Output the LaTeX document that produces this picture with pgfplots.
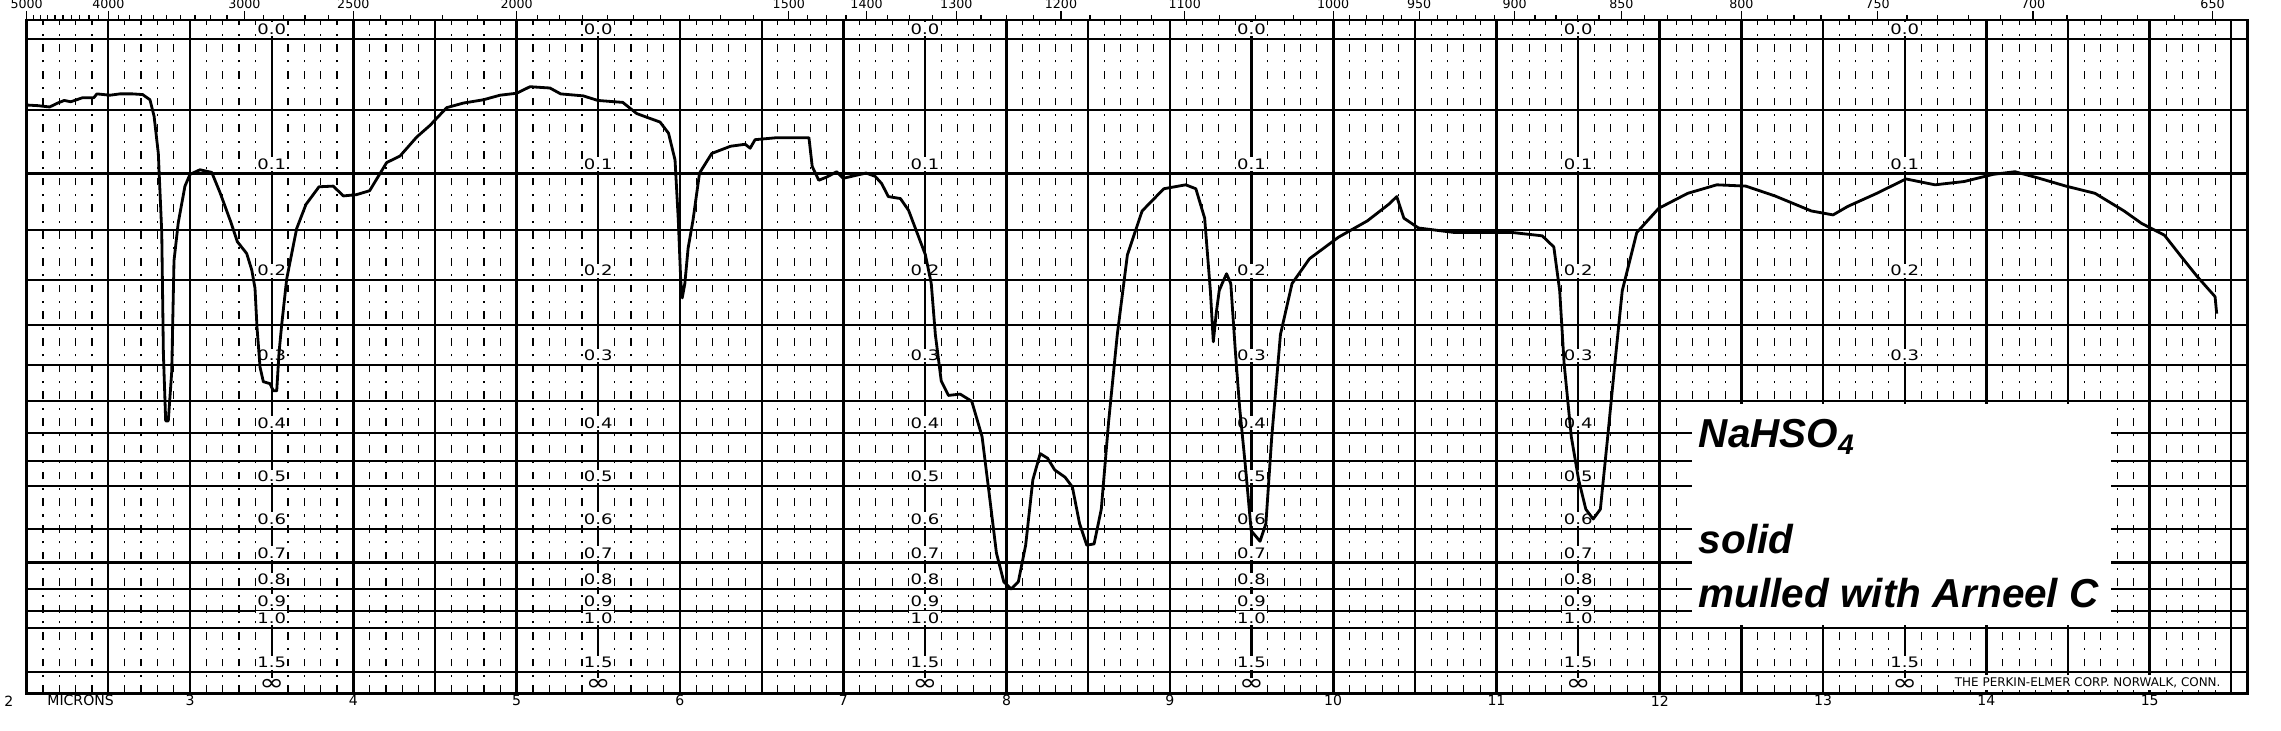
\documentclass[border=0pt]{standalone}
\usepackage{fontspec}
\usepackage{graphicx}
\usepackage{pgfplots}
\pgfplotsset{compat=1.18}
\newfontfamily\chartfont{DejaVu Sans}
\newfontfamily\handfont{Liberation Sans}
\newcommand\lbl[1]{\scalebox{1.25}[1]{\chartfont\fontsize{4.1}{4.2}\selectfont #1}}
\newcommand\inftysym{\scalebox{1.3}[1]{\chartfont\fontsize{6.5}{6.5}\selectfont ∞}}
\tikzset{lab/.style={anchor=south, fill=white, inner sep=0.4pt, yshift=0.6pt}}
\begin{document}
\begin{tikzpicture}
\useasboundingbox (0,0) rectangle (228.1mm,73mm);
\fill[white] (0,0) rectangle (228.1mm,73mm);
\begin{axis}[
  at={(2.67mm,3.7mm)}, anchor=south west,
  scale only axis, width=222.1mm, height=67.3mm,
  xmin=2, xmax=15.6, ymin=0, ymax=102.9,
  clip=false,
  axis line style={line width=0.85pt},
  tick style={draw=none},
  xtick={2,3,...,15},
  xticklabels={}, yticklabels={},
  xmajorgrids, xminorgrids, ymajorgrids,
  major x grid style={black, line width=0.75pt},
  minor x grid style={black, line width=0.32pt, dash pattern=on 2.2pt off 2.4pt on 0.6pt off 2.4pt},
  major y grid style={black, line width=0.6pt},
  minor xtick={2.1,2.2,2.3,2.4,2.6,2.7,2.8,2.9,3.1,3.2,3.3,3.4,3.6,3.7,3.8,3.9,4.1,4.2,4.3,4.4,4.6,4.7,4.8,4.9,5.1,5.2,5.3,5.4,5.6,5.7,5.8,5.9,6.1,6.2,6.3,6.4,6.6,6.7,6.8,6.9,7.1,7.2,7.3,7.4,7.6,7.7,7.8,7.9,8.1,8.2,8.3,8.4,8.6,8.7,8.8,8.9,9.1,9.2,9.3,9.4,9.6,9.7,9.8,9.9,10.1,10.2,10.3,10.4,10.6,10.7,10.8,10.9,11.1,11.2,11.3,11.4,11.6,11.7,11.8,11.9,12.1,12.2,12.3,12.4,12.6,12.7,12.8,12.9,13.1,13.2,13.3,13.4,13.6,13.7,13.8,13.9,14.1,14.2,14.3,14.4,14.6,14.7,14.8,14.9,15.1,15.2,15.3,15.4},
  extra x ticks={2.5,3.5,4.5,5.5,6.5,7.5,8.5,9.5,10.5,11.5,12.5,13.5,14.5,15.5},
  extra x tick labels={},
  extra x tick style={grid=major, major x grid style={black, line width=0.6pt}},
  ytick={0,3.162,10,12.589,15.849,19.953,25.119,31.623,35.481,39.811,44.668,50.119,56.234,63.096,70.795,79.433,89.125,100},
]
\foreach \lx in {3.5,5.5,7.5,9.5,11.5}{%
  \foreach \ty/\lab in {100/0.0,79.433/0.1,63.096/0.2,50.119/0.3,39.811/0.4,31.623/0.5,25.119/0.6,19.953/0.7,15.849/0.8,12.589/0.9,10/1.0,3.162/1.5}{%
    \edef\tmp{\noexpand\node[lab] at (axis cs:\lx,\ty) {\noexpand\lbl{\lab}};}\tmp
  }%
  \edef\tmp{\noexpand\node[lab, yshift=-0.6pt] at (axis cs:\lx,0) {\noexpand\inftysym};}\tmp
}
\foreach \ty/\lab in {100/0.0,79.433/0.1,63.096/0.2,50.119/0.3,3.162/1.5}{%
  \edef\tmp{\noexpand\node[lab] at (axis cs:13.5,\ty) {\noexpand\lbl{\lab}};}\tmp
}
\node[lab, yshift=-0.6pt] at (axis cs:13.5,0) {\inftysym};
\addplot[black, line width=0.8pt, line join=round] coordinates {
(2.00,89.9) (2.07,89.8) (2.14,89.6) (2.19,90.2) (2.23,90.6) (2.27,90.4) (2.34,91.0) (2.41,91.0) (2.43,91.6) (2.51,91.4) (2.57,91.6) (2.65,91.6) (2.71,91.5) (2.755,90.7) (2.78,88.2) (2.806,82.5) (2.827,70.4) (2.837,51.9) (2.851,41.6) (2.867,41.6) (2.888,49.1) (2.902,66.1) (2.928,71.9) (2.969,77.5) (3.00,79.3) (3.061,80.0) (3.133,79.6) (3.184,76.5) (3.25,72.0) (3.29,69.0) (3.347,67.2) (3.378,64.7) (3.398,61.9) (3.41,56.0) (3.429,49.8) (3.449,47.6) (3.49,47.3) (3.51,46.2) (3.531,46.2) (3.545,52.0) (3.561,56.2) (3.592,63.3) (3.653,71.0) (3.71,74.7) (3.79,77.4) (3.877,77.5) (3.939,76.0) (4.02,76.2) (4.10,76.8) (4.204,81.1) (4.286,82.1) (4.388,85.0) (4.47,86.8) (4.572,89.5) (4.674,90.2) (4.796,90.7) (4.898,91.4) (5.00,91.7) (5.082,92.7) (5.204,92.5) (5.27,91.6) (5.408,91.3) (5.497,90.6) (5.65,90.3) (5.735,88.6) (5.80,88.0) (5.878,87.3) (5.93,85.6) (5.97,81.5) (5.99,72.3) (6.005,63.0) (6.014,60.4) (6.03,62.6) (6.05,68.0) (6.08,72.3) (6.12,79.5) (6.195,82.5) (6.31,83.6) (6.40,83.9) (6.43,83.3) (6.46,84.6) (6.59,84.9) (6.79,84.9) (6.81,80.5) (6.85,78.4) (6.90,78.9) (6.96,79.7) (7.0,78.7) (7.14,79.5) (7.195,79.0) (7.235,77.9) (7.276,75.9) (7.35,75.6) (7.40,73.8) (7.45,70.5) (7.503,67.0) (7.539,62.6) (7.564,54.8) (7.600,47.7) (7.644,45.5) (7.716,45.7) (7.787,44.6) (7.850,39.2) (7.894,30.4) (7.938,21.4) (7.983,17.0) (8.028,15.9) (8.072,17.0) (8.117,22.6) (8.161,32.6) (8.206,36.6) (8.251,35.9) (8.295,34.1) (8.358,33.0) (8.403,31.5) (8.447,25.9) (8.491,22.6) (8.536,22.8) (8.580,28.1) (8.625,41.5) (8.678,54.8) (8.740,67.0) (8.830,73.7) (8.963,77.1) (9.097,77.7) (9.159,77.1) (9.213,72.6) (9.248,61.5) (9.266,53.7) (9.284,58.1) (9.302,61.5) (9.320,62.6) (9.347,64.1) (9.373,62.6) (9.400,52.6) (9.427,43.7) (9.462,34.8) (9.498,24.8) (9.552,23.2) (9.588,25.9) (9.624,39.2) (9.677,54.8) (9.748,62.6) (9.855,66.4) (10.033,69.7) (10.21,72.2) (10.344,74.8) (10.389,75.9) (10.433,72.6) (10.522,71.1) (10.745,70.4) (11.101,70.4) (11.280,69.9) (11.351,68.2) (11.387,61.5) (11.414,50.4) (11.458,39.2) (11.503,32.6) (11.547,28.1) (11.592,26.6) (11.636,28.1) (11.681,39.2) (11.725,50.4) (11.770,61.5) (11.859,70.4) (11.993,74.1) (12.171,76.4) (12.349,77.7) (12.527,77.5) (12.705,76.0) (12.928,73.7) (13.061,73.1) (13.151,74.4) (13.329,76.4) (13.507,78.6) (13.685,77.7) (13.863,78.2) (14.041,79.3) (14.175,79.7) (14.309,78.8) (14.487,77.5) (14.665,76.4) (14.843,73.7) (14.95,71.8) (15.09,70.0) (15.2,66.5) (15.29,63.7) (15.40,60.6) (15.41,58.0)
};
\foreach \m in {3,4,...,15}{%
  \edef\tmp{\noexpand\node[font=\noexpand\chartfont\noexpand\fontsize{4}{4}\noexpand\selectfont] at (axis cs:\m,-1.2) {\m};}\tmp
}
\node[font=\chartfont\fontsize{4}{4}\selectfont] at (axis cs:1.89,-1.2) {2};
\node[font=\chartfont\fontsize{4}{4}\selectfont] at (axis cs:2.33,-1.2) {MICRONS};
\node[fill=white, inner sep=0.6pt, font=\chartfont\fontsize{3.4}{3.4}\selectfont] at (axis cs:14.62,1.6) {THE PERKIN-ELMER CORP. NORWALK, CONN.};
\fill[white] (axis cs:12.198,44.2) rectangle (axis cs:14.764,10.4);
\node[anchor=base west, inner sep=0pt, font=\handfont\bfseries\itshape\fontsize{11.5}{12}\selectfont] at (axis cs:12.235,37.5) {NaHSO\textsubscript{4}};
\node[anchor=base west, inner sep=0pt, font=\handfont\bfseries\itshape\fontsize{11.5}{12}\selectfont] at (axis cs:12.235,21.4) {solid};
\node[anchor=base west, inner sep=0pt, font=\handfont\bfseries\itshape\fontsize{11.5}{12}\selectfont] at (axis cs:12.235,13.0) {mulled with Arneel C};
\end{axis}
\begin{axis}[
  at={(2.67mm,3.7mm)}, anchor=south west,
  scale only axis, width=222.1mm, height=67.3mm,
  xmin=2, xmax=15.6, ymin=0, ymax=102.9,
  axis x line*=top, axis y line=none,
  axis line style={line width=0.45pt},
  tick align=outside,
  major tick length=0.9mm, minor tick length=0.45mm,
  every tick/.style={black, line width=0.35pt},
  xtick={2.0,2.5,3.3333,4.0,5.0,6.6667,7.1429,7.6923,8.3333,9.0909,10.0,10.5263,11.1111,11.7647,12.5,13.3333,14.2857,15.3846},
  xticklabels={5000,4000,3000,2500,2000,1500,1400,1300,1200,1100,1000,950,900,850,800,750,700,650},
  minor xtick={2.0408,2.0833,2.1277,2.1739,2.2222,2.2727,2.3256,2.3810,2.4390,2.5641,2.6316,2.7027,2.7778,2.8571,2.9412,3.0303,3.125,3.2258,3.4483,3.5714,3.7037,3.8462,4.1667,4.3478,4.5455,4.7619,5.1282,5.2632,5.4054,5.5556,5.7143,5.8824,6.0606,6.25,6.4516,6.7797,6.8966,7.0175,7.2727,7.4074,7.5472,7.8431,8.0,8.1633,8.5106,8.6957,8.8889,9.3023,9.5238,9.7561,10.101,10.204,10.309,10.417,10.638,10.753,10.870,10.989,11.236,11.364,11.494,11.628,11.905,12.048,12.195,12.346,12.658,12.821,12.987,13.158,13.514,13.699,13.889,14.085,14.493,14.706,14.925,15.152},
  xticklabel style={font=\chartfont\fontsize{3.6}{3.6}\selectfont, inner sep=0.4pt},
]
\end{axis}
\end{tikzpicture}
\end{document}
